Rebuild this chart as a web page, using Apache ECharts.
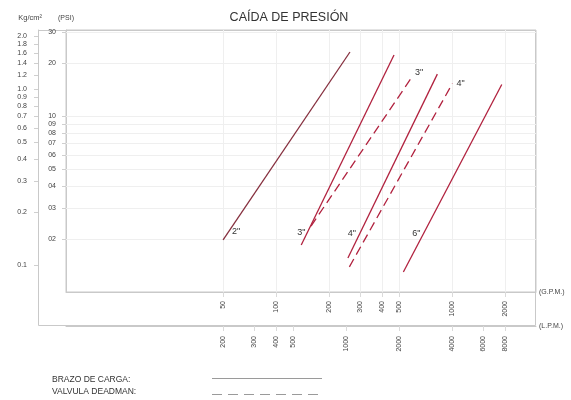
<!DOCTYPE html>
<html>
<head>
<meta charset="utf-8">
<script src="https://cdn.jsdelivr.net/npm/echarts@6/dist/echarts.min.js"></script>
<style>
  html, body { margin: 0; padding: 0; background: #ffffff; }
  #chart { width: 571px; height: 400px; }
</style>
</head>
<body>
<div id="chart"></div>
<script>
// Tick values and their printed labels
const gpmTicks = [50, 100, 200, 300, 400, 500, 1000, 2000];
const lpmTicks = [200, 300, 400, 500, 1000, 2000, 4000, 6000, 8000];
const psiTicks = [30, 20, 10, 9, 8, 7, 6, 5, 4, 3, 2];
const psiTickLabels = ['30', '20', '10', '09', '08', '07', '06', '05', '04', '03', '02'];
const kgTicks = [2.0, 1.8, 1.6, 1.4, 1.2, 1.0, 0.9, 0.8, 0.7, 0.6, 0.5, 0.4, 0.3, 0.2, 0.1];

// Axis ranges (flow in G.P.M., pressure in PSI)
const gpmRange = [6.4, 3000];
const psiRange = [1, 30.8];
const lpmPerGpm = 4;
const psiPerKg = 14.22;

// Pressure-drop lines: [G.P.M., PSI] end points
const brazo2 = [[50, 1.98], [263, 23.1]];
const brazo3 = [[139, 1.85], [468, 22.2]];
const brazo4 = [[256, 1.56], [825, 17.3]];
const brazo6 = [[529, 1.30], [1917, 15.1]];
const valvula3 = [[158, 2.37], [593, 16.7]];
const valvula4 = [[261, 1.39], [1005, 15.3]];

const FONT = 'Liberation Sans, Arial, sans-serif';
const FRAME = '#c9c9c9';
const TXT = '#444';

const chart = echarts.init(document.getElementById('chart'), null, { renderer: 'canvas' });

function withLabel(points, idx, text, label) {
  return points.map((p, i) => {
    if (i !== idx) return p;
    return {
      value: p,
      label: Object.assign({
        show: true, formatter: text, fontSize: 9, color: '#333', fontFamily: FONT
      }, label)
    };
  });
}

function lineSeries(name, data, color, dashed) {
  return {
    name: name,
    type: 'line',
    xAxisIndex: 0,
    yAxisIndex: 0,
    data: data,
    symbol: 'circle',
    symbolSize: 0,
    silent: true,
    animation: false,
    lineStyle: { color: color, width: 1.3, type: dashed ? [9, 5] : 'solid' },
    itemStyle: { color: color },
    z: 5
  };
}

const gridLines = {
  silent: true,
  symbol: 'none',
  animation: false,
  label: { show: false },
  lineStyle: { color: '#efefef', width: 1, type: 'solid' },
  data: psiTicks.map(v => ({ yAxis: v })).concat(gpmTicks.map(v => ({ xAxis: v })))
};

const RED = '#b1223f';
const DARK = '#86303f';

const series = [
  Object.assign(lineSeries('2"', withLabel(brazo2, 0, '2"', { position: 'right', distance: 9, offset: [0, -8] }), DARK, false), { markLine: gridLines }),
  lineSeries('3"', withLabel(brazo3, 0, '3"', { position: 'top', distance: 8, offset: [0, 0] }), RED, false),
  lineSeries('4"', withLabel(brazo4, 0, '4"', { position: 'top', distance: 20, offset: [4, 0] }), RED, false),
  lineSeries('6"', withLabel(brazo6, 0, '6"', { position: 'top', distance: 34, offset: [13, 0] }), RED, false),
  lineSeries('3" valvula', withLabel(valvula3, 1, '3"', { position: 'right', distance: 3, offset: [0, -4] }), RED, true),
  lineSeries('4" valvula', withLabel(valvula4, 1, '4"', { position: 'right', distance: 4, offset: [0, 0] }), RED, true)
];

const axisText = { fontSize: 7, color: TXT, fontFamily: FONT };
const plainNumber = v => String(Math.round(v));

const option = {
  backgroundColor: '#ffffff',
  animation: false,
  title: {
    text: 'CAÍDA DE PRESIÓN',
    left: 284,
    top: 6,
    textAlign: 'center',
    textStyle: { fontSize: 12.5, fontWeight: 'normal', color: '#333', fontFamily: FONT }
  },
  grid: {
    left: 66, right: 35, top: 30, bottom: 108,
    show: true, borderColor: FRAME, borderWidth: 1, backgroundColor: 'transparent'
  },
  xAxis: [
    {
      type: 'log', gridIndex: 0, position: 'bottom',
      min: gpmRange[0], max: gpmRange[1],
      name: '(G.P.M.)', nameLocation: 'end', nameGap: 3,
      nameTextStyle: axisText,
      axisLine: { show: true, lineStyle: { color: FRAME, width: 1 } },
      axisTick: { show: true, customValues: gpmTicks, length: 5, lineStyle: { color: '#dadada' } },
      axisLabel: { show: true, customValues: gpmTicks, rotate: 90, margin: 9, fontSize: 7, color: TXT, fontFamily: FONT, formatter: plainNumber },
      splitLine: { show: false },
      minorTick: { show: false }
    },
    {
      type: 'log', gridIndex: 0, position: 'bottom', offset: 34,
      min: gpmRange[0] * lpmPerGpm, max: gpmRange[1] * lpmPerGpm,
      name: '(L.P.M.)', nameLocation: 'end', nameGap: 3,
      nameTextStyle: axisText,
      axisLine: { show: true, lineStyle: { color: FRAME, width: 1 } },
      axisTick: { show: true, customValues: lpmTicks, length: 5, lineStyle: { color: '#dadada' } },
      axisLabel: { show: true, customValues: lpmTicks, rotate: 90, margin: 10, fontSize: 7, color: TXT, fontFamily: FONT, formatter: plainNumber },
      splitLine: { show: false }
    }
  ],
  yAxis: [
    {
      type: 'log', gridIndex: 0, position: 'left',
      min: psiRange[0], max: psiRange[1],
      name: '(PSI)', nameLocation: 'end', nameGap: 8,
      nameTextStyle: { fontSize: 7, color: TXT, fontFamily: FONT, align: 'center' },
      axisLine: { show: true, lineStyle: { color: FRAME, width: 1 } },
      axisTick: { show: true, customValues: psiTicks, length: 4, lineStyle: { color: '#cfcfcf' } },
      axisLabel: {
        show: true, customValues: psiTicks, margin: 10, fontSize: 7, color: TXT, fontFamily: FONT,
        formatter: function (v) {
          for (let i = 0; i < psiTicks.length; i++) {
            if (Math.abs(psiTicks[i] - v) < 1e-6 * psiTicks[i]) return psiTickLabels[i];
          }
          return '';
        }
      },
      splitLine: { show: false }
    },
    {
      type: 'log', gridIndex: 0, position: 'left', offset: 28,
      min: psiRange[0] / psiPerKg, max: psiRange[1] / psiPerKg,
      name: 'Kg/cm²', nameLocation: 'end', nameGap: 8,
      nameTextStyle: { fontSize: 7.5, color: TXT, fontFamily: FONT, align: 'right', padding: [0, -4, 0, 0] },
      axisLine: { show: true, lineStyle: { color: FRAME, width: 1 } },
      axisTick: { show: true, customValues: kgTicks, length: 4, lineStyle: { color: '#cfcfcf' } },
      axisLabel: {
        show: true, customValues: kgTicks, margin: 11, fontSize: 7, color: TXT, fontFamily: FONT,
        formatter: function (v) { return (Math.round(v * 10) / 10).toFixed(1); }
      },
      splitLine: { show: false }
    }
  ],
  graphic: [
    // outer frame enclosing both pressure scales and both flow scales
    {
      type: 'rect', silent: true, z: -1,
      shape: { x: 38.5, y: 30.5, width: 497, height: 295 },
      style: { fill: 'none', stroke: FRAME, lineWidth: 1 }
    },
    // key
    {
      type: 'text', left: 52, top: 375, silent: true,
      style: { text: 'BRAZO DE CARGA:', fontSize: 8.5, fill: '#333', fontFamily: FONT }
    },
    {
      type: 'text', left: 52, top: 387, silent: true,
      style: { text: 'VALVULA DEADMAN:', fontSize: 8.5, fill: '#333', fontFamily: FONT }
    },
    {
      type: 'line', silent: true,
      shape: { x1: 212, y1: 378.5, x2: 322, y2: 378.5 },
      style: { stroke: '#9a9a9a', lineWidth: 1 }
    },
    {
      type: 'line', silent: true,
      shape: { x1: 212, y1: 394.5, x2: 322, y2: 394.5 },
      style: { stroke: '#9a9a9a', lineWidth: 1, lineDash: [10, 6] }
    }
  ],
  series: series
};

chart.setOption(option);
</script>
</body>
</html>
